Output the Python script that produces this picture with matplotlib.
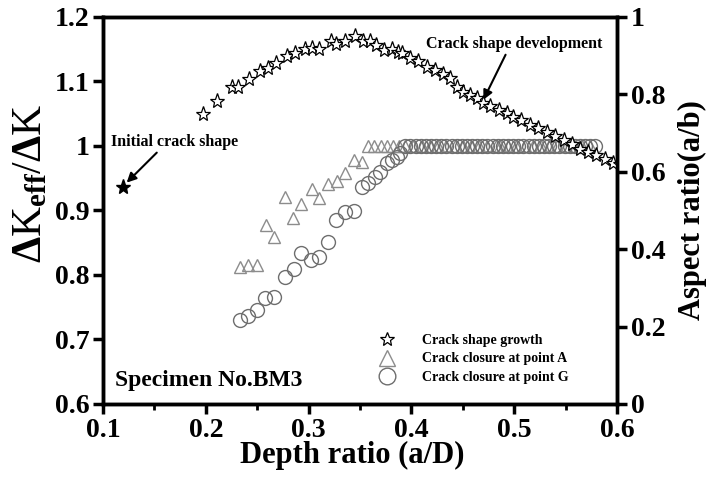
import matplotlib
matplotlib.use("Agg")
import matplotlib.pyplot as plt
from matplotlib.ticker import FuncFormatter, MultipleLocator
from matplotlib.lines import Line2D

plt.rcParams['font.family'] = ['Liberation Serif', 'DejaVu Serif']
plt.rcParams['font.weight'] = 'bold'
plt.rcParams['mathtext.fontset'] = 'custom'
plt.rcParams['mathtext.rm'] = 'Liberation Serif:bold'
plt.rcParams['mathtext.it'] = 'Liberation Serif:bold'
plt.rcParams['mathtext.bf'] = 'Liberation Serif:bold'

# initial crack shape (aspect ratio, right axis)
init_x = [0.119]
init_r = [0.560]

# crack shape growth (aspect ratio a/b, right axis)
star_x = [0.197, 0.211, 0.225, 0.231, 0.242, 0.253, 0.260, 0.268, 0.279, 0.287,
          0.296, 0.303, 0.310, 0.322, 0.327, 0.335, 0.345, 0.353, 0.360, 0.366,
          0.373, 0.381, 0.387, 0.391, 0.399, 0.406, 0.415, 0.423, 0.431, 0.438,
          0.444, 0.450, 0.457, 0.464, 0.470, 0.476, 0.485, 0.493, 0.499, 0.507,
          0.515, 0.523, 0.532, 0.540, 0.548, 0.556, 0.564, 0.572, 0.580, 0.588,
          0.596, 0.603]
star_r = [0.750, 0.782, 0.818, 0.818, 0.840, 0.860, 0.867, 0.880, 0.900, 0.908,
          0.918, 0.920, 0.918, 0.938, 0.930, 0.938, 0.950, 0.938, 0.937, 0.928,
          0.915, 0.918, 0.910, 0.908, 0.893, 0.885, 0.872, 0.863, 0.853, 0.842,
          0.820, 0.807, 0.798, 0.790, 0.778, 0.770, 0.760, 0.753, 0.742, 0.735,
          0.722, 0.712, 0.703, 0.693, 0.683, 0.673, 0.660, 0.652, 0.643, 0.632,
          0.623, 0.620]

# crack closure at point A (dKeff/dK, left axis)
tri_x = [0.233, 0.241, 0.250, 0.259, 0.266, 0.277, 0.285, 0.293, 0.303, 0.310,
         0.319, 0.328, 0.335, 0.344, 0.352, 0.358, 0.364, 0.370, 0.376, 0.382,
         0.388, 0.394, 0.402, 0.410, 0.418, 0.426, 0.434, 0.442, 0.450, 0.458,
         0.466, 0.474, 0.482, 0.486, 0.494, 0.502, 0.510, 0.518, 0.526, 0.534,
         0.542, 0.550, 0.558, 0.566, 0.574]
tri_k = [0.812, 0.816, 0.816, 0.878, 0.859, 0.921, 0.889, 0.910, 0.934, 0.919,
         0.941, 0.946, 0.958, 0.979, 0.975, 1.0, 1.0, 1.0, 1.0, 1.0,
         1.0, 1.0, 1.0, 1.0, 1.0, 1.0, 1.0, 1.0, 1.0, 1.0,
         1.0, 1.0, 1.0, 1.0, 1.0, 1.0, 1.0, 1.0, 1.0, 1.0,
         1.0, 1.0, 1.0, 1.0, 1.0]

# crack closure at point G (dKeff/dK, left axis)
circ_x = [0.233, 0.241, 0.250, 0.258, 0.266, 0.277, 0.286, 0.293, 0.302, 0.310,
          0.319, 0.327, 0.335, 0.344, 0.352, 0.358, 0.365, 0.369, 0.376, 0.381,
          0.386, 0.389, 0.394, 0.399, 0.404, 0.409, 0.414, 0.419, 0.424, 0.429,
          0.434, 0.439, 0.444, 0.449, 0.454, 0.459, 0.464, 0.469, 0.474, 0.479,
          0.484, 0.489, 0.494, 0.499, 0.504, 0.509, 0.514, 0.519, 0.524, 0.529,
          0.534, 0.539, 0.544, 0.549, 0.554, 0.559, 0.564, 0.569, 0.574, 0.579]
circ_k = [0.730, 0.736, 0.746, 0.764, 0.766, 0.797, 0.809, 0.834, 0.824, 0.828,
          0.851, 0.885, 0.898, 0.899, 0.936, 0.942, 0.952, 0.960, 0.973, 0.978,
          0.983, 0.989, 1.0, 1.0, 1.0, 1.0, 1.0, 1.0, 1.0, 1.0,
          1.0, 1.0, 1.0, 1.0, 1.0, 1.0, 1.0, 1.0, 1.0, 1.0,
          1.0, 1.0, 1.0, 1.0, 1.0, 1.0, 1.0, 1.0, 1.0, 1.0,
          1.0, 1.0, 1.0, 1.0, 1.0, 1.0, 1.0, 1.0, 1.0, 1.0]

tri_col = '#8c8c8c'
circ_col = '#6e6e6e'

fig = plt.figure(figsize=(7.12, 4.91), dpi=100)
ax = fig.add_axes([0.1447, 0.1772, 0.7219, 0.7882])
ax2 = ax.twinx()

ax.plot(tri_x, tri_k, linestyle='none', marker='^', ms=9, mfc='none',
        mec=tri_col, mew=1.0)
ax.plot(circ_x, circ_k, linestyle='none', marker='o', ms=10, mfc='none',
        mec=circ_col, mew=1.0)
ax2.plot(star_x, star_r, linestyle='none', marker='*', ms=11, mfc='white',
         mec='black', mew=0.9)
ax2.plot(init_x, init_r, linestyle='none', marker='*', ms=11, mfc='black',
         mec='black')

ax.set_xlim(0.1, 0.6)
ax.set_ylim(0.6, 1.2)
ax2.set_ylim(0, 1)

fmt = FuncFormatter(lambda v, p: '%g' % round(v, 2))
ax.xaxis.set_major_locator(MultipleLocator(0.1))
ax.xaxis.set_minor_locator(MultipleLocator(0.05))
ax.yaxis.set_major_locator(MultipleLocator(0.1))
ax2.yaxis.set_major_locator(MultipleLocator(0.2))
ax.xaxis.set_major_formatter(fmt)
ax.yaxis.set_major_formatter(fmt)
ax2.yaxis.set_major_formatter(fmt)

for a in (ax, ax2):
    for s in a.spines.values():
        s.set_linewidth(2.5)
ax.tick_params(axis='both', which='major', direction='out', length=7, width=2.5,
               labelsize=20, top=False, right=False, pad=3)
ax.tick_params(axis='x', which='minor', direction='out', length=4, width=2.0)
ax2.tick_params(axis='y', which='major', direction='out', length=7, width=2.5,
                labelsize=20, pad=3)

ax.set_xlabel('Depth ratio (a/D)', fontsize=22, fontweight='bold')
ax.xaxis.set_label_coords(0.485, -0.095)
ax.set_ylabel(r'$\Delta$K$_{\rm eff}$/$\Delta$K', fontsize=30)
ax.yaxis.set_label_coords(-0.102, 0.57)
ax2.set_ylabel('Aspect ratio(a/b)', fontsize=22, fontweight='bold', labelpad=9)

ax2.annotate('Initial crack shape', xy=(init_x[0] + 0.004, init_r[0] + 0.012),
             xytext=(0.108, 0.667), fontsize=11.5, fontweight='bold',
             arrowprops=dict(arrowstyle='-|>', color='black', lw=1.5,
                             mutation_scale=14, shrinkA=0, shrinkB=0,
                             relpos=(0.38, 0.0)))
ax2.annotate('Crack shape development', xy=(0.470, 0.786),
             xytext=(0.414, 0.92), fontsize=11.5, fontweight='bold',
             arrowprops=dict(arrowstyle='-|>', color='black', lw=1.5,
                             mutation_scale=14, shrinkA=0, shrinkB=0,
                             relpos=(0.46, 0.0)))

ax.text(0.112, 0.628, 'Specimen No.BM3', fontsize=17, fontweight='bold')

handles = [Line2D([], [], linestyle='none', marker='*', ms=10, mfc='white',
                  mec='black', mew=0.9),
           Line2D([], [], linestyle='none', marker='^', ms=12, mfc='none',
                  mec=tri_col, mew=1.0),
           Line2D([], [], linestyle='none', marker='o', ms=12, mfc='none',
                  mec=circ_col, mew=1.0)]
labels = ['Crack shape growth', 'Crack closure at point A',
          'Crack closure at point G']
ax.legend(handles, labels, loc='lower right', bbox_to_anchor=(0.93, 0.02),
          frameon=False, fontsize=10, handletextpad=2.0, labelspacing=0.38,
          handlelength=1.0)

fig.savefig('out.png', dpi=100)
